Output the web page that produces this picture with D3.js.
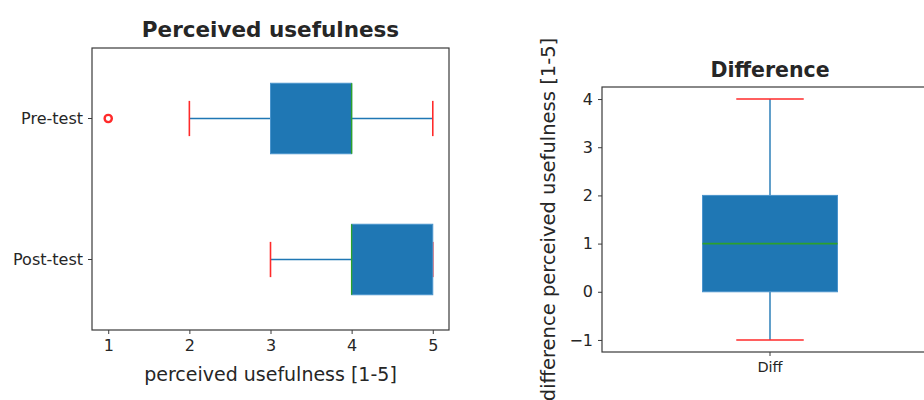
<!DOCTYPE html>
<html><head><meta charset="utf-8">
<script src="https://cdn.jsdelivr.net/npm/d3@7"></script>
<style>
body{margin:0;background:#fff;}
text{font-family:"DejaVu Sans",sans-serif;fill:#262626;}
</style></head>
<body>
<svg id="c" width="924" height="400"></svg>
<script>
// ---- data ----
const categories = ["Pre-test", "Post-test"];
const whiskerLow = [2, 3];
const q1 = [3, 4];
const median = [4, 4];
const q3 = [4, 5];
const whiskerHigh = [5, 5];
const outliers = [[1], []];
const xTicks = [1, 2, 3, 4, 5];

const diffCategory = ["Diff"];
const diffWhiskerLow = [-1];
const diffQ1 = [0];
const diffMedian = [1];
const diffQ3 = [2];
const diffWhiskerHigh = [4];
const diffTicks = [-1, 0, 1, 2, 3, 4];

const BLUE = "#1f77b4", RED = "#ff2a2a", GREEN = "#2ca02c", AX = "#3a3a3a";
const svg = d3.select("#c");

// ---- left chart ----
const L = {l: 92, r: 449, t: 48, b: 330};
const x = d3.scaleLinear().domain([0.8, 5.2]).range([L.l, L.r]);
const y = d3.scaleBand().domain(categories).range([L.t, L.b]).paddingInner(0.5).paddingOuter(0.25);
const g1 = svg.append("g");
const half = y.bandwidth() / 2;
categories.forEach((c, i) => {
  const cy = y(c) + half;
  g1.append("line").attr("x1", x(whiskerLow[i])).attr("x2", x(q1[i])).attr("y1", cy).attr("y2", cy)
    .attr("stroke", BLUE).attr("stroke-width", 1.4);
  g1.append("line").attr("x1", x(q3[i])).attr("x2", x(whiskerHigh[i])).attr("y1", cy).attr("y2", cy)
    .attr("stroke", BLUE).attr("stroke-width", 1.4);
  [whiskerLow[i], whiskerHigh[i]].forEach(v => {
    g1.append("line").attr("x1", x(v)).attr("x2", x(v)).attr("y1", cy - half / 2).attr("y2", cy + half / 2)
      .attr("stroke", RED).attr("stroke-width", 1.6);
  });
  g1.append("rect").attr("x", x(q1[i])).attr("width", x(q3[i]) - x(q1[i]))
    .attr("y", y(c)).attr("height", y.bandwidth())
    .attr("fill", BLUE).attr("stroke", "#4a94cc").attr("stroke-width", 1);
  g1.append("line").attr("x1", x(median[i])).attr("x2", x(median[i])).attr("y1", y(c)).attr("y2", y(c) + y.bandwidth())
    .attr("stroke", GREEN).attr("stroke-width", 1.4);
  outliers[i].forEach(v => {
    g1.append("circle").attr("cx", x(v)).attr("cy", cy).attr("r", 3.6)
      .attr("fill", "none").attr("stroke", RED).attr("stroke-width", 2.4);
  });
});
g1.append("rect").attr("x", L.l).attr("y", L.t).attr("width", L.r - L.l).attr("height", L.b - L.t)
  .attr("fill", "none").attr("stroke", AX).attr("stroke-width", 1.2);
const xa = g1.append("g").attr("transform", `translate(0,${L.b})`)
  .call(d3.axisBottom(x).tickValues(xTicks).tickFormat(d3.format("d")).tickSize(4).tickPadding(6));
xa.select(".domain").remove();
const ya = g1.append("g").attr("transform", `translate(${L.l},0)`)
  .call(d3.axisLeft(y).tickSize(4).tickPadding(5));
ya.select(".domain").remove();
[xa, ya].forEach(a => {
  a.selectAll("line").attr("stroke", AX);
  a.selectAll("text").style("font-size", "16px").style("font-family", "DejaVu Sans").attr("fill", "#262626");
});
g1.append("text").attr("x", (L.l + L.r) / 2).attr("y", 37).attr("text-anchor", "middle")
  .style("font-size", "21.5px").style("font-weight", "bold").attr("fill", "#000").text("Perceived usefulness");
g1.append("text").attr("x", (L.l + L.r) / 2).attr("y", 381).attr("text-anchor", "middle")
  .style("font-size", "19px").text("perceived usefulness [1-5]");

// ---- right chart ----
const R = {l: 602, r: 938, t: 87, b: 352};
const y2 = d3.scaleLinear().domain([-1.25, 4.25]).range([R.b, R.t]);
const x2 = d3.scaleBand().domain(diffCategory).range([R.l, R.r]).paddingInner(0).paddingOuter(0.745);
const g2 = svg.append("g");
diffCategory.forEach((c, i) => {
  const cx = x2(c) + x2.bandwidth() / 2;
  const bw = x2.bandwidth();
  g2.append("line").attr("x1", cx).attr("x2", cx).attr("y1", y2(diffWhiskerLow[i])).attr("y2", y2(diffQ1[i]))
    .attr("stroke", BLUE).attr("stroke-width", 1.4);
  g2.append("line").attr("x1", cx).attr("x2", cx).attr("y1", y2(diffQ3[i])).attr("y2", y2(diffWhiskerHigh[i]))
    .attr("stroke", BLUE).attr("stroke-width", 1.4);
  [diffWhiskerLow[i], diffWhiskerHigh[i]].forEach(v => {
    g2.append("line").attr("x1", cx - bw / 4).attr("x2", cx + bw / 4).attr("y1", y2(v)).attr("y2", y2(v))
      .attr("stroke", RED).attr("stroke-width", 1.6);
  });
  g2.append("rect").attr("x", x2(c)).attr("width", bw)
    .attr("y", y2(diffQ3[i])).attr("height", y2(diffQ1[i]) - y2(diffQ3[i]))
    .attr("fill", BLUE).attr("stroke", "#4a94cc").attr("stroke-width", 1);
  g2.append("line").attr("x1", x2(c)).attr("x2", x2(c) + bw).attr("y1", y2(diffMedian[i])).attr("y2", y2(diffMedian[i]))
    .attr("stroke", GREEN).attr("stroke-width", 1.6);
});
g2.append("rect").attr("x", R.l).attr("y", R.t).attr("width", R.r - R.l).attr("height", R.b - R.t)
  .attr("fill", "none").attr("stroke", AX).attr("stroke-width", 1.2);
const ya2 = g2.append("g").attr("transform", `translate(${R.l},0)`)
  .call(d3.axisLeft(y2).tickValues(diffTicks).tickFormat(d => d < 0 ? "\u2212" + Math.abs(d) : d).tickSize(4).tickPadding(5));
ya2.select(".domain").remove();
const xa2 = g2.append("g").attr("transform", `translate(0,${R.b})`)
  .call(d3.axisBottom(x2).tickSize(4).tickPadding(6));
xa2.select(".domain").remove();
ya2.selectAll("text").style("font-size", "16px");
xa2.selectAll("text").style("font-size", "14.5px");
[ya2, xa2].forEach(a => {
  a.selectAll("line").attr("stroke", AX);
  a.selectAll("text").style("font-family", "DejaVu Sans").attr("fill", "#262626");
});
g2.append("text").attr("x", (R.l + R.r) / 2).attr("y", 77).attr("text-anchor", "middle")
  .style("font-size", "20.5px").style("font-weight", "bold").attr("fill", "#000").text("Difference");
g2.append("text").attr("transform", `translate(555,${(R.t + R.b) / 2}) rotate(-90)`).attr("text-anchor", "middle")
  .style("font-size", "19.5px").text("difference perceived usefulness [1-5]");
</script>
</body></html>
